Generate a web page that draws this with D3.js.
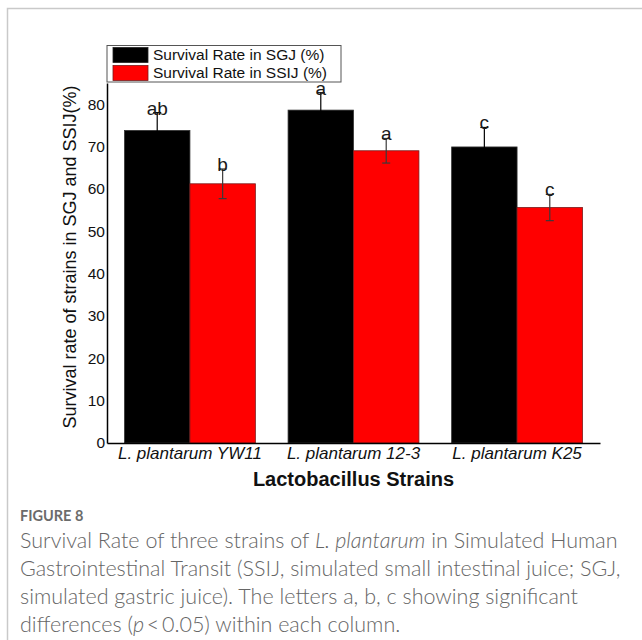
<!DOCTYPE html>
<html>
<head>
<meta charset="utf-8">
<script src="https://cdn.jsdelivr.net/npm/d3@7/dist/d3.min.js"></script>
<style>
  html, body { margin: 0; padding: 0; background: #fff; }
  svg { display: block; }
</style>
</head>
<body>
<svg id="chart" width="642" height="640"></svg>
<script>
// Survival of three L. plantarum strains in simulated gastric (SGJ)
// and small intestinal (SSIJ) juice, mean ± error, with significance letters.
const strains = ["L. plantarum YW11", "L. plantarum 12-3", "L. plantarum K25"];
const seriesNames = ["Survival Rate in SGJ (%)", "Survival Rate in SSIJ (%)"];
const seriesColors = ["#000000", "#ff0000"];
const sgjValues = [73.8, 78.6, 69.9];
const ssijValues = [61.2, 69.0, 55.6];
const sgjErrors = [4.2, 4.1, 4.6];
const ssijErrors = [3.5, 2.9, 3.1];
const sgjLetters = ["ab", "a", "c"];
const ssijLetters = ["b", "a", "c"];
const yTicks = [0, 10, 20, 30, 40, 50, 60, 70, 80];
const captionLines = [
  [["Survival Rate of three strains of ", false], ["L. plantarum", true], [" in Simulated Human", false]],
  [["Gastrointestinal Transit (SSIJ, simulated small intestinal juice; SGJ,", false]],
  [["simulated gastric juice). The letters a, b, c showing significant", false]],
  [["differences (", false], ["p", true], ["\u2009<\u20090.05) within each column.", false]]
];

const rows = strains.map((s, i) => ({
  strain: s,
  bars: [
    { k: 0, v: sgjValues[i], e: sgjErrors[i], letter: sgjLetters[i] },
    { k: 1, v: ssijValues[i], e: ssijErrors[i], letter: ssijLetters[i] }
  ]
}));

const svg = d3.select("#chart");
const font = "'Liberation Sans', Arial, sans-serif";

// page frame
svg.append("path")
  .attr("d", "M7.5,640V8.5H642")
  .attr("fill", "none")
  .attr("stroke", "#c9c9c9")
  .attr("stroke-width", 1.5);

const plot = { left: 107, right: 600, top: 83, bottom: 443 };

const y = d3.scaleLinear().domain([0, 85]).range([plot.bottom, plot.top]);
const x0 = d3.scaleBand().domain(strains).range([plot.left, plot.right])
  .paddingInner(0.2).paddingOuter(0.107);
const x1 = d3.scaleBand().domain([0, 1]).range([0, x0.bandwidth()]);

// bars
const groups = svg.append("g").selectAll("g").data(rows).join("g")
  .attr("transform", d => `translate(${x0(d.strain)},0)`);

groups.selectAll("rect").data(d => d.bars).join("rect")
  .attr("x", d => x1(d.k))
  .attr("y", d => y(d.v))
  .attr("width", x1.bandwidth())
  .attr("height", d => y(0) - y(d.v))
  .attr("fill", d => seriesColors[d.k])
  .attr("stroke", d => d.k === 0 ? "#333" : "#7a1a1a")
  .attr("stroke-width", 0.8);

// error bars
const capW = 4;
const eb = groups.selectAll("g.err").data(d => d.bars).join("g").attr("class", "err")
  .attr("stroke", d => d.k === 0 ? "#000" : "#3a3a3a")
  .attr("stroke-width", 1.2);
eb.append("line")
  .attr("x1", d => x1(d.k) + x1.bandwidth() / 2)
  .attr("x2", d => x1(d.k) + x1.bandwidth() / 2)
  .attr("y1", d => y(d.v - d.e))
  .attr("y2", d => y(d.v + d.e));
eb.append("line")
  .attr("x1", d => x1(d.k) + x1.bandwidth() / 2 - capW)
  .attr("x2", d => x1(d.k) + x1.bandwidth() / 2 + capW)
  .attr("y1", d => y(d.v + d.e)).attr("y2", d => y(d.v + d.e));
eb.append("line")
  .attr("x1", d => x1(d.k) + x1.bandwidth() / 2 - capW)
  .attr("x2", d => x1(d.k) + x1.bandwidth() / 2 + capW)
  .attr("y1", d => y(d.v - d.e)).attr("y2", d => y(d.v - d.e));

// significance letters
groups.selectAll("text.sig").data(d => d.bars).join("text").attr("class", "sig")
  .attr("x", d => x1(d.k) + x1.bandwidth() / 2)
  .attr("y", d => y(d.v + d.e) + 2)
  .attr("text-anchor", "middle")
  .attr("font-family", font)
  .attr("font-size", 19)
  .attr("fill", "#1a1a1a")
  .text(d => d.letter);

// y axis
const yAxis = svg.append("g")
  .attr("transform", `translate(${plot.left},0)`)
  .call(d3.axisLeft(y).tickValues(yTicks).tickSize(0).tickPadding(2));
yAxis.select(".domain").attr("stroke", "#000").attr("stroke-width", 1.5);
yAxis.selectAll("text").attr("font-family", font).attr("font-size", 15.5).attr("fill", "#111");

// x axis
const xAxis = svg.append("g")
  .attr("transform", `translate(0,${plot.bottom})`)
  .call(d3.axisBottom(x0).tickSize(0).tickPadding(4));
xAxis.select(".domain").attr("stroke", "#000").attr("stroke-width", 1.5);
xAxis.selectAll("text")
  .attr("font-family", font).attr("font-size", 17)
  .attr("font-style", "italic").attr("fill", "#111");

// axis titles
svg.append("text")
  .attr("transform", `translate(76,257) rotate(-90)`)
  .attr("text-anchor", "middle")
  .attr("font-family", font).attr("font-size", 18).attr("fill", "#111")
  .text("Survival rate of strains in SGJ and SSIJ(%)");

svg.append("text")
  .attr("x", x0(strains[1]) + x0.bandwidth() / 2)
  .attr("y", 486)
  .attr("text-anchor", "middle")
  .attr("font-family", font).attr("font-size", 20).attr("font-weight", "bold")
  .attr("fill", "#111")
  .text("Lactobacillus Strains");

// legend
const legend = svg.append("g").attr("transform", "translate(107,45.5)");
legend.append("rect")
  .attr("width", 234).attr("height", 36.5)
  .attr("fill", "#fff").attr("stroke", "#555").attr("stroke-width", 1);
const li = legend.selectAll("g.item").data(seriesNames).join("g").attr("class", "item")
  .attr("transform", (d, i) => `translate(6,${2 + i * 18})`);
li.append("rect")
  .attr("width", 35).attr("height", 15)
  .attr("fill", (d, i) => seriesColors[i])
  .attr("stroke", (d, i) => i === 0 ? "#222" : "#7a1a1a").attr("stroke-width", 0.8);
li.append("text")
  .attr("x", 40).attr("y", 12.5)
  .attr("font-family", font).attr("font-size", 15.5).attr("fill", "#111")
  .text(d => d);

// caption
const capFont = "Lato, 'Open Sans', sans-serif";
svg.append("text")
  .attr("x", 20).attr("y", 521)
  .attr("font-family", capFont).attr("font-size", 14.5).attr("font-weight", 700)
  .attr("fill", "#6b6b6b")
  .text("FIGURE 8");

const cap = svg.append("g");
captionLines.forEach((line, i) => {
  const t = cap.append("text")
    .attr("x", 20).attr("y", 548 + i * 28)
    .attr("font-family", capFont).attr("font-size", 21.5).attr("font-weight", 300)
    .attr("fill", "#666");
  line.forEach(([s, it]) => {
    t.append("tspan").attr("font-style", it ? "italic" : "normal").text(s);
  });
});
</script>
</body>
</html>
